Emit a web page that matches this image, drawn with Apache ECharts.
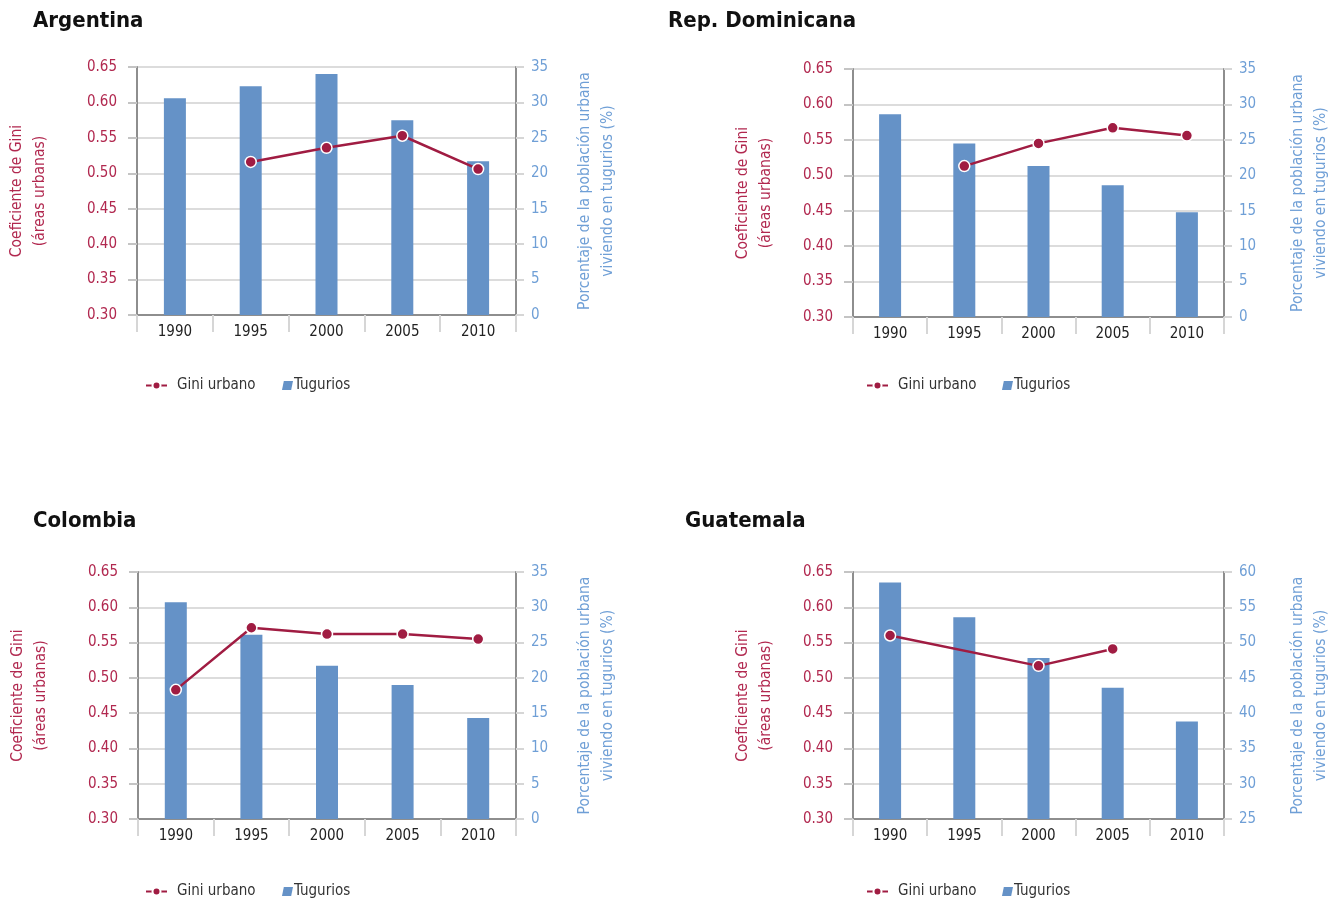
<!DOCTYPE html>
<html>
<head>
<meta charset="utf-8">
<script src="https://cdn.jsdelivr.net/npm/echarts@6/dist/echarts.min.js"></script>
<style>
html,body{margin:0;padding:0;background:#fff;}
#chart{width:1333px;height:901px;}
</style>
</head>
<body>
<div id="chart"></div>
<script>
// ---- Data ----
const years = ['1990', '1995', '2000', '2005', '2010'];
const countryNames = ['Argentina', 'Rep. Dominicana', 'Colombia', 'Guatemala'];
const giniArgentina = [null, 0.516, 0.536, 0.553, 0.506];
const slumsArgentina = [30.6, 32.3, 34.0, 27.5, 21.7];
const giniRepDom = [null, 0.513, 0.545, 0.567, 0.556];
const slumsRepDom = [28.6, 24.5, 21.3, 18.6, 14.8];
const giniColombia = [0.483, 0.571, 0.562, 0.562, 0.555];
const slumsColombia = [30.7, 26.1, 21.7, 19.0, 14.3];
const giniGuatemala = [0.560, null, 0.517, 0.541, null];
const slumsGuatemala = [58.5, 53.6, 47.8, 43.6, 38.8];
const giniRange = [0.30, 0.65, 0.05];
const slumRanges = [[0, 35, 5], [0, 35, 5], [0, 35, 5], [25, 60, 5]];
const seriesNames = ['Gini urbano', 'Tugurios'];
const leftAxisName = 'Coeficiente de Gini\n(áreas urbanas)';
const rightAxisName = 'Porcentaje de la población urbana\nviviendo en tugurios (%)';

const giniData = [giniArgentina, giniRepDom, giniColombia, giniGuatemala];
const slumData = [slumsArgentina, slumsRepDom, slumsColombia, slumsGuatemala];

// ---- Layout / style ----
const FONT = '"Liberation Sans Narrow", "DejaVu Sans Condensed", "Open Sans", sans-serif';
const RED = '#a01c42';
const RED_TXT = '#b1284f';
const BLUE = '#6592c7';
const BLUE_TXT = '#6f9fd6';
const AXIS = '#8e8e8e';
const GRID = '#dcdcdc';

const layouts = [
  {grid: {left: 137, top: 67, width: 379, height: 248}, title: {left: 33, top: 10}, legendTop: 378, legendLeft: [145, 282], lGap: 86, rGap: 57},
  {grid: {left: 853, top: 69, width: 377, height: 248}, title: {left: 668, top: 10}, legendTop: 378, legendLeft: [866, 1002], lGap: 76, rGap: 62},
  {grid: {left: 138, top: 572, width: 378, height: 247}, title: {left: 33, top: 510}, legendTop: 884, legendLeft: [145, 282], lGap: 86, rGap: 57},
  {grid: {left: 853, top: 572, width: 377, height: 247}, title: {left: 685, top: 510}, legendTop: 884, legendLeft: [866, 1002], lGap: 76, rGap: 62}
];

const option = {
  animation: false,
  backgroundColor: '#fff',
  title: [], grid: [], xAxis: [], yAxis: [], series: [], legend: []
};

layouts.forEach((L, i) => {
  option.title.push({
    text: countryNames[i], left: L.title.left, top: L.title.top, padding: 0,
    textStyle: {fontFamily: FONT, fontWeight: 'bold', fontSize: 22, color: '#111'}
  });
  option.grid.push(Object.assign({containLabel: false}, L.grid));
  option.xAxis.push({
    type: 'category', gridIndex: i, data: years, boundaryGap: true,
    axisLine: {show: true, lineStyle: {color: AXIS, width: 2}},
    axisTick: {show: true, length: 17, lineStyle: {color: '#d6d6d6', width: 2}},
    axisLabel: {margin: 10, fontSize: 15, color: '#222', fontFamily: FONT},
    splitLine: {show: false}
  });
  option.yAxis.push({
    type: 'value', gridIndex: i, position: 'left',
    min: giniRange[0], max: giniRange[1], interval: giniRange[2],
    axisLine: {show: true, lineStyle: {color: AXIS, width: 2}},
    axisTick: {show: true, length: 9, lineStyle: {color: '#c4c4c4', width: 2}},
    splitLine: {show: true, lineStyle: {color: GRID, width: 2}},
    axisLabel: {formatter: v => v.toFixed(2), color: RED_TXT, fontSize: 15, margin: 20, fontFamily: FONT},
    name: leftAxisName, nameLocation: 'middle', nameRotate: 90, nameGap: L.lGap,
    nameTextStyle: {color: RED_TXT, fontSize: 15.5, lineHeight: 23, fontFamily: FONT}
  });
  const R = slumRanges[i];
  option.yAxis.push({
    type: 'value', gridIndex: i, position: 'right',
    min: R[0], max: R[1], interval: R[2],
    axisLine: {show: true, lineStyle: {color: AXIS, width: 2}},
    axisTick: {show: true, length: 8, lineStyle: {color: '#d6d6d6', width: 2}},
    splitLine: {show: false},
    axisLabel: {color: BLUE_TXT, fontSize: 15, margin: 15, fontFamily: FONT},
    name: rightAxisName, nameLocation: 'middle', nameRotate: 90, nameGap: L.rGap,
    nameTextStyle: {color: BLUE_TXT, fontSize: 15.5, lineHeight: 23, fontFamily: FONT}
  });
  option.series.push({
    name: seriesNames[1], type: 'bar', xAxisIndex: i, yAxisIndex: 2 * i + 1,
    data: slumData[i], barWidth: 22, itemStyle: {color: BLUE}, z: 2
  });
  option.series.push({
    name: seriesNames[0], type: 'line', xAxisIndex: i, yAxisIndex: 2 * i,
    data: giniData[i], connectNulls: true, symbol: 'circle', symbolSize: 11,
    lineStyle: {color: RED, width: 2.5},
    itemStyle: {color: RED, borderColor: '#fff', borderWidth: 1.5}, z: 3
  });
  option.legend.push({
    data: [{name: seriesNames[0]}], left: L.legendLeft[0], top: L.legendTop, padding: 0,
    itemWidth: 21, itemHeight: 10, selectedMode: false,
    textStyle: {fontSize: 15, color: '#333', fontFamily: FONT, padding: [0, 0, 0, 5]}
  });
  option.legend.push({
    data: [{name: seriesNames[1], icon: 'path://M2,0L12,0L10,10L0,10Z'}], left: L.legendLeft[1], top: L.legendTop, padding: 0,
    itemWidth: 11, itemHeight: 10, selectedMode: false,
    textStyle: {fontSize: 15, color: '#333', fontFamily: FONT, padding: [0, 0, 0, -4]}
  });
});

const chart = echarts.init(document.getElementById('chart'), null, {renderer: 'canvas'});
chart.setOption(option);
</script>
</body>
</html>
